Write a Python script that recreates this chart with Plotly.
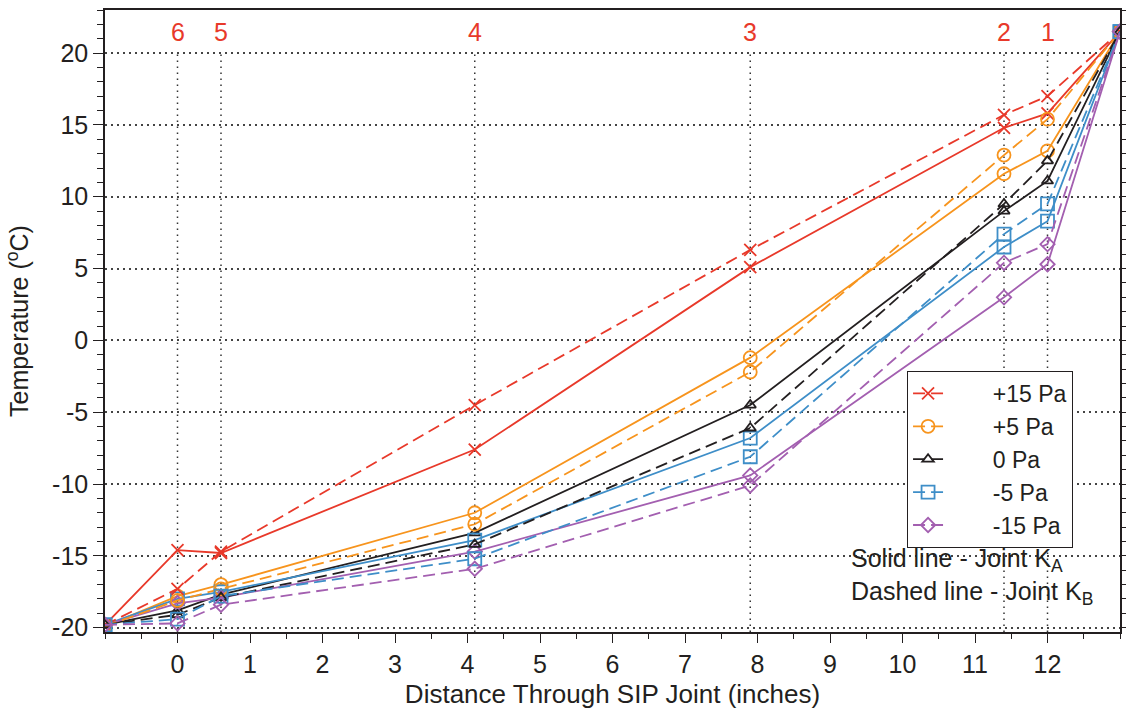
import plotly.graph_objects as go

# Measurement positions through the SIP joint (inches); -1 and 13 are the air boundaries
positions = [-1, 0, 0.6, 4.1, 7.9, 11.4, 12, 13]
sensor_positions = [0, 0.6, 4.1, 7.9, 11.4, 12]
sensor_labels = ["6", "5", "4", "3", "2", "1"]

x_tickvals = list(range(0, 13))
y_tickvals = [-20, -15, -10, -5, 0, 5, 10, 15, 20]
y_ticktext = ["-20", "-15", "-10", "-5", "0", "5", "10", "15", "20"]

pressures = ["+15 Pa", "+5 Pa", "0 Pa", "-5 Pa", "-15 Pa"]

# Joint K_A (solid lines), temperatures in deg C
ka_p15 = [-19.8, -14.6, -14.8, -7.6, 5.1, 14.8, 15.8, 21.5]
ka_p5 = [-19.9, -17.8, -17.0, -12.0, -1.2, 11.6, 13.2, 21.5]
ka_0 = [-19.8, -18.8, -17.7, -13.4, -4.5, 9.0, 11.1, 21.5]
ka_m5 = [-19.8, -18.0, -17.5, -13.9, -6.8, 6.5, 8.3, 21.5]
ka_m15 = [-19.8, -18.3, -17.9, -14.7, -9.4, 3.0, 5.3, 21.5]

# Joint K_B (dashed lines)
kb_p15 = [-19.8, -17.3, -14.7, -4.5, 6.3, 15.7, 17.0, 21.5]
kb_p5 = [-19.9, -18.1, -17.3, -12.8, -2.2, 12.9, 15.4, 21.5]
kb_0 = [-19.8, -19.1, -17.9, -14.2, -6.1, 9.5, 12.5, 21.5]
kb_m5 = [-19.8, -19.4, -17.8, -15.2, -8.1, 7.4, 9.5, 21.5]
kb_m15 = [-19.8, -19.7, -18.4, -15.9, -10.1, 5.4, 6.7, 21.5]

colors = ["#E8392A", "#F7941D", "#231F20", "#3E8EC8", "#A35FB0"]
symbols = ["x-thin-open", "circle-open", "triangle-up-open", "square-open", "diamond-open"]
sizes = [12, 13, 10, 13, 11]

ka_series = [ka_p15, ka_p5, ka_0, ka_m5, ka_m15]
kb_series = [kb_p15, kb_p5, kb_0, kb_m5, kb_m15]

FONT = "Liberation Sans, Arial, Helvetica, sans-serif"
INK = "#231F20"
PAD = "\u00a0" * 7  # gap between legend symbol and its label
fig = go.Figure()

for name, col, sym, sz, ys in zip(pressures, colors, symbols, sizes, ka_series):
    fig.add_trace(go.Scatter(
        x=positions, y=ys, mode="lines+markers", name=name, showlegend=False,
        line=dict(color=col, width=1.8, dash="solid"),
        marker=dict(symbol=sym, size=sz, color=col, line=dict(color=col, width=1.8)),
    ))

for name, col, sym, sz, ys in zip(pressures, colors, symbols, sizes, kb_series):
    fig.add_trace(go.Scatter(
        x=positions, y=ys, mode="lines+markers", name=PAD + name,
        line=dict(color=col, width=1.8, dash="12px,6px"),
        marker=dict(symbol=sym, size=sz, color=col, line=dict(color=col, width=1.8)),
    ))

# Vertical dotted guides at the sensor locations, with sensor numbers on top
for xp, lab in zip(sensor_positions, sensor_labels):
    fig.add_shape(type="line", xref="x", yref="y", x0=xp, x1=xp, y0=-20.3, y1=20,
                  line=dict(color="#333333", width=1.5, dash="1.5px,4.5px"), layer="below")
    fig.add_annotation(x=xp, y=21.5, xref="x", yref="y", text=lab, showarrow=False,
                       font=dict(family=FONT, size=25, color="#E8392A"))

# Line-style key for the two joints
fig.add_annotation(x=0.733, y=0.09, xref="paper", yref="paper", xanchor="left",
                   yanchor="middle", align="left", showarrow=False,
                   text="Solid line - Joint K<sub>A</sub><br>Dashed line - Joint K<sub>B</sub>",
                   font=dict(family=FONT, size=25, color=INK))

fig.update_layout(
    width=1126, height=715,
    margin=dict(l=105, r=6, t=10, b=83),
    paper_bgcolor="white", plot_bgcolor="white",
    font=dict(family=FONT, size=25, color=INK),
    legend=dict(x=0.790, y=0.42, xanchor="left", yanchor="top",
                bordercolor=INK, borderwidth=1.2, bgcolor="white",
                font=dict(family=FONT, size=23), tracegroupgap=0),
    xaxis=dict(
        range=[-1, 13], tickmode="array", tickvals=x_tickvals,
        ticks="outside", ticklen=9, tickwidth=1.2, tickcolor=INK,
        minor=dict(dtick=0.5, ticks="outside", ticklen=5, tickcolor=INK, tickwidth=1.2),
        showgrid=False, zeroline=False, showline=True, linecolor=INK, linewidth=1.5,
        mirror=True, automargin=False,
        title=dict(text="Distance Through SIP Joint (inches)", font=dict(size=26), standoff=8),
        tickfont=dict(size=25),
    ),
    yaxis=dict(
        range=[-20.3, 23], tickmode="array", tickvals=y_tickvals, ticktext=y_ticktext,
        ticks="outside", ticklen=10, tickwidth=1.2, tickcolor=INK,
        minor=dict(dtick=1, ticks="outside", ticklen=6, tickcolor=INK, tickwidth=1.2,
                   showgrid=False),
        showgrid=True, griddash="1.5px,4.5px", gridcolor="#444444", gridwidth=1.5,
        zeroline=False, showline=True, linecolor=INK, linewidth=1.5, mirror="ticks",
        automargin=False,
        title=dict(text="Temperature (<sup>o</sup>C)", font=dict(size=25), standoff=16),
        tickfont=dict(size=25),
    ),
)

fig.write_html("out.html")
